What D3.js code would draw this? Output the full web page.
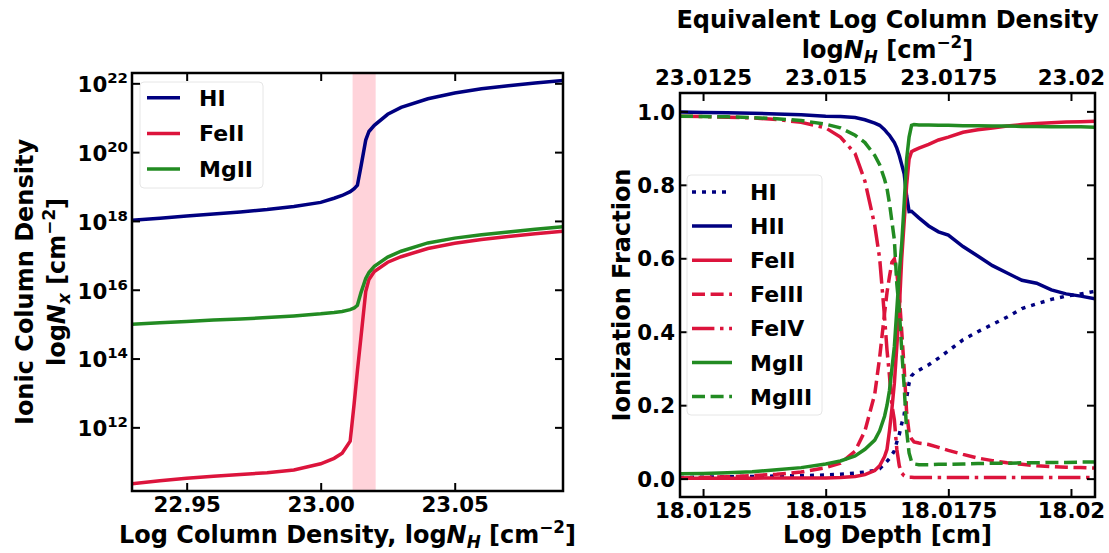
<!DOCTYPE html>
<html>
<head>
<meta charset="utf-8">
<script src="https://cdn.jsdelivr.net/npm/d3@7"></script>
<style>
body { margin: 0; background: #fff; }
svg text { font-family: "DejaVu Sans", sans-serif; font-weight: bold; fill: #000; }
</style>
</head>
<body>
<svg id="chart" width="1109" height="553"></svg>
<script>
// ---- left panel: ionic column density vs log N_H ----
var logNH = [22.9296, 22.94, 22.95, 22.96, 22.97, 22.98, 22.99, 23.00, 23.005, 23.008, 23.011, 23.0125, 23.0137,
    23.015, 23.0168, 23.018, 23.02, 23.025, 23.03, 23.04, 23.05, 23.06, 23.07, 23.08, 23.0904]
var logColHI = [18.02, 18.08, 18.14, 18.2, 18.26, 18.33, 18.42, 18.54, 18.66, 18.74, 18.85, 18.94, 19.04,
    19.57, 20.35, 20.6, 20.78, 21.1, 21.3, 21.55, 21.72, 21.84, 21.93, 22.01, 22.08]
var logColFeII = [10.36, 10.45, 10.52, 10.58, 10.63, 10.68, 10.76, 10.94, 11.1, 11.25, 11.6, 12.7, 13.65,
    14.6, 15.95, 16.3, 16.53, 16.8, 16.96, 17.2, 17.35, 17.46, 17.55, 17.63, 17.7]
var logColMgII = [15.0, 15.04, 15.08, 15.12, 15.15, 15.19, 15.24, 15.3, 15.34, 15.37, 15.42, 15.47, 15.55,
    15.91, 16.33, 16.5, 16.68, 16.95, 17.12, 17.36, 17.5, 17.6, 17.68, 17.76, 17.83]
var bandNH = [23.0119, 23.0205]
var leftXTicks = [22.95, 23.00, 23.05]
var leftYExps = [12, 14, 16, 18, 20, 22]
var leftNames = ["HI", "FeII", "MgII"]

// ---- right panel: ionization fraction vs log depth ----
var logDepth = [18.01203, 18.0125, 18.0130, 18.0135, 18.0140, 18.0145, 18.0150, 18.0153, 18.0156, 18.0158,
    18.0160, 18.0161, 18.0162, 18.01625, 18.0163, 18.01635, 18.0164, 18.01645, 18.0165, 18.01655,
    18.0166, 18.01665, 18.0167, 18.01675, 18.0168, 18.0169, 18.0171, 18.0173, 18.0175, 18.0178,
    18.0181, 18.0184, 18.0187, 18.0190, 18.0193, 18.0196, 18.0199, 18.0202, 18.02049]
var fracHI = [0.003, 0.004, 0.005, 0.006, 0.007, 0.008, 0.01, 0.012, 0.015, 0.018,
    0.022, 0.027, 0.04, 0.047, 0.055, 0.065, 0.075, 0.1, 0.12, 0.15,
    0.175, 0.22, 0.26, 0.28, 0.287, 0.295, 0.31, 0.328, 0.348, 0.378,
    0.40, 0.42, 0.44, 0.463, 0.476, 0.488, 0.497, 0.503, 0.51]
var fracHII = [0.998, 0.997, 0.996, 0.995, 0.993, 0.991, 0.987, 0.986, 0.983, 0.977,
    0.968, 0.962, 0.95, 0.942, 0.935, 0.925, 0.915, 0.9, 0.88, 0.855,
    0.83, 0.77, 0.727, 0.728, 0.722, 0.71, 0.688, 0.672, 0.663, 0.632,
    0.606, 0.58, 0.56, 0.54, 0.532, 0.514, 0.503, 0.497, 0.49]
var fracFeII = [0.001, 0.001, 0.001, 0.001, 0.002, 0.002, 0.002, 0.003, 0.006, 0.011,
    0.022, 0.035, 0.06, 0.08, 0.13, 0.19, 0.26, 0.36, 0.46, 0.6,
    0.7, 0.8, 0.87, 0.89, 0.894, 0.9, 0.91, 0.922, 0.93, 0.943,
    0.95, 0.955, 0.96, 0.964, 0.967, 0.969, 0.971, 0.972, 0.973]
var fracFeIII = [0.002, 0.003, 0.005, 0.008, 0.012, 0.018, 0.03, 0.042, 0.075, 0.13,
    0.23, 0.33, 0.45, 0.507, 0.55, 0.589, 0.598, 0.56, 0.5, 0.4,
    0.3, 0.18, 0.125, 0.108, 0.1, 0.097, 0.093, 0.085, 0.077, 0.066,
    0.056, 0.049, 0.043, 0.039, 0.035, 0.033, 0.031, 0.03, 0.029]
var fracFeIV = [0.987, 0.986, 0.984, 0.982, 0.978, 0.97, 0.955, 0.93, 0.885, 0.81,
    0.69, 0.6, 0.44, 0.35, 0.28, 0.2, 0.16, 0.08, 0.035, 0.015,
    0.008, 0.005, 0.004, 0.004, 0.003, 0.003, 0.003, 0.003, 0.003, 0.003,
    0.003, 0.003, 0.003, 0.003, 0.003, 0.003, 0.003, 0.003, 0.003]
var fracMgII = [0.013, 0.014, 0.016, 0.019, 0.024, 0.03, 0.04, 0.048, 0.062, 0.08,
    0.105, 0.13, 0.17, 0.2, 0.24, 0.3, 0.36, 0.46, 0.56, 0.64,
    0.75, 0.87, 0.93, 0.962, 0.964, 0.963, 0.963, 0.962, 0.962, 0.961,
    0.961, 0.96, 0.96, 0.959, 0.959, 0.958, 0.958, 0.958, 0.957]
var fracMgIII = [0.987, 0.986, 0.985, 0.983, 0.98, 0.975, 0.965, 0.955, 0.935, 0.915,
    0.88, 0.855, 0.815, 0.79, 0.75, 0.7, 0.65, 0.53, 0.46, 0.35,
    0.25, 0.13, 0.07, 0.046, 0.04, 0.038, 0.038, 0.039, 0.039, 0.04,
    0.041, 0.042, 0.042, 0.043, 0.043, 0.044, 0.044, 0.045, 0.045]
var rightNames = ["HI", "HII", "FeII", "FeIII", "FeIV", "MgII", "MgIII"]
var depthTicks = [18.0125, 18.015, 18.0175, 18.02]
var depthTickLabels = ["18.0125", "18.015", "18.0175", "18.02"]
var nhTickLabels = ["23.0125", "23.015", "23.0175", "23.02"]
var fracTicks = [0.0, 0.2, 0.4, 0.6, 0.8, 1.0]

var navy = "#000080", crimson = "#dc143c", green = "#228b22"
var lw = 3.5
var tickFont = "21.33px", labelFont = "24px", legendFont = "22px"

var svg = d3.select("#chart")

// text with sub/superscripts and italics
function richText(sel, parts, fs) {
    var cur = 0
    parts.forEach(function(p) {
        var t = p[0], k = p[1] || ""
        var off = 0, size = fs
        if (k.indexOf("sup") >= 0) { off = -0.42 * fs; size = 0.7 * fs }
        if (k.indexOf("sub") >= 0) { off = 0.22 * fs; size = 0.7 * fs }
        sel.append("tspan")
            .attr("dy", off - cur)
            .style("font-size", size + "px")
            .style("font-style", k.indexOf("i") === 0 ? "italic" : "normal")
            .text(t)
        cur = off
    })
}

function frame(g, x0, y0, x1, y1) {
    g.append("rect").attr("x", x0).attr("y", y0).attr("width", x1 - x0).attr("height", y1 - y0)
        .attr("fill", "none").attr("stroke", "#000").attr("stroke-width", 2.5)
}

function styleTicks(g) {
    g.select(".domain").remove()
    g.selectAll(".tick line").attr("stroke", "#000").attr("stroke-width", 2)
    g.selectAll(".tick text").style("font-size", tickFont).attr("fill", "#000")
}

// ================= LEFT PANEL =================
var L = { x0: 132, x1: 563, y0: 73, y1: 491 }
var xL = d3.scaleLinear().domain([22.9296, 23.0904]).range([L.x0, L.x1])
var yL = d3.scaleLog().domain([Math.pow(10, 10.15), Math.pow(10, 22.3)]).range([L.y1, L.y0])

var left = svg.append("g")
left.append("clipPath").attr("id", "clipL").append("rect")
    .attr("x", L.x0).attr("y", L.y0).attr("width", L.x1 - L.x0).attr("height", L.y1 - L.y0)

left.append("rect")
    .attr("x", xL(bandNH[0])).attr("y", L.y0)
    .attr("width", xL(bandNH[1]) - xL(bandNH[0])).attr("height", L.y1 - L.y0)
    .attr("fill", "pink").attr("opacity", 0.7)

var lineL = function(vals) {
    return d3.line().x(function(d, i) { return xL(logNH[i]) }).y(function(d) { return yL(Math.pow(10, d)) })(vals)
}
var leftSeries = [[logColHI, navy], [logColFeII, crimson], [logColMgII, green]]
leftSeries.forEach(function(s) {
    left.append("path").attr("d", lineL(s[0])).attr("clip-path", "url(#clipL)")
        .attr("fill", "none").attr("stroke", s[1]).attr("stroke-width", lw)
})

left.append("g").attr("transform", "translate(0," + L.y1 + ")")
    .call(d3.axisBottom(xL).tickValues(leftXTicks).tickSize(-8).tickSizeOuter(0).tickFormat(d3.format(".2f")))
    .call(styleTicks)
    .call(function(g) { g.selectAll(".tick text").attr("y", 21).attr("dy", null) })
left.append("g").attr("transform", "translate(0," + L.y0 + ")")
    .call(d3.axisTop(xL).tickValues(leftXTicks).tickSize(-8).tickSizeOuter(0).tickFormat(""))
    .call(styleTicks)
var yAxL = left.append("g").attr("transform", "translate(" + L.x0 + ",0)")
    .call(d3.axisLeft(yL).tickValues(leftYExps.map(function(e) { return Math.pow(10, e) })).tickSize(-8).tickSizeOuter(0).tickFormat(""))
    .call(styleTicks)
yAxL.selectAll(".tick").each(function(d) {
    var t = d3.select(this).append("text").attr("x", -4).attr("y", 8.3).attr("text-anchor", "end")
    richText(t, [["10"], [String(Math.round(Math.log10(d))), "sup"]], 21.33)
})
left.append("g").attr("transform", "translate(" + L.x1 + ",0)")
    .call(d3.axisRight(yL).tickValues(leftYExps.map(function(e) { return Math.pow(10, e) })).tickSize(-8).tickSizeOuter(0).tickFormat(""))
    .call(styleTicks)

frame(left, L.x0, L.y0, L.x1, L.y1)

// axis titles
var lx = left.append("text").attr("x", (L.x0 + L.x1) / 2).attr("y", 543).attr("text-anchor", "middle").style("font-size", labelFont)
richText(lx, [["Log Column Density, log"], ["N", "i"], ["H", "isub"], [" [cm"], ["\u22122", "sup"], ["]"]], 24)
left.append("text").attr("transform", "translate(33," + (L.y0 + L.y1) / 2 + ") rotate(-90)")
    .attr("text-anchor", "middle").style("font-size", labelFont).text("Ionic Column Density")
var ly2 = left.append("text").attr("transform", "translate(65," + (L.y0 + L.y1) / 2 + ") rotate(-90)")
    .attr("text-anchor", "middle").style("font-size", labelFont)
richText(ly2, [["log"], ["N", "i"], ["x", "isub"], [" [cm"], ["\u22122", "sup"], ["]"]], 24)

// legend
var legL = left.append("g")
legL.append("rect").attr("x", 140).attr("y", 82).attr("width", 123).attr("height", 106).attr("rx", 4)
    .attr("fill", "#fff").attr("fill-opacity", 0.8).attr("stroke", "#e6e6e6").attr("stroke-width", 1)
leftNames.forEach(function(n, i) {
    var yy = 97.7 + i * 35.7
    legL.append("line").attr("x1", 147).attr("x2", 180).attr("y1", yy).attr("y2", yy)
        .attr("stroke", leftSeries[i][1]).attr("stroke-width", lw)
    legL.append("text").attr("x", 199).attr("y", yy + 8).style("font-size", legendFont).text(n)
})

// ================= RIGHT PANEL =================
var R = { x0: 680, x1: 1095, y0: 93, y1: 497 }
var xR = d3.scaleLinear().domain([18.01203, 18.02049]).range([R.x0, R.x1])
var xTop = d3.scaleLinear().domain([23.01203, 23.02049]).range([R.x0, R.x1])
var yR = d3.scaleLinear().domain([-0.05, 1.05]).range([R.y1, R.y0])

var right = svg.append("g")
right.append("clipPath").attr("id", "clipR").append("rect")
    .attr("x", R.x0).attr("y", R.y0).attr("width", R.x1 - R.x0).attr("height", R.y1 - R.y0)

var lineR = d3.line().x(function(d, i) { return xR(logDepth[i]) }).y(function(d) { return yR(d) })
var rightSeries = [
    [fracHI, navy, "4,6"],
    [fracHII, navy, null],
    [fracFeII, crimson, null],
    [fracFeIII, crimson, "13,5.6"],
    [fracFeIV, crimson, "22.4,5.6,3.5,5.6"],
    [fracMgII, green, null],
    [fracMgIII, green, "13,5.6"]
]
rightSeries.forEach(function(s) {
    right.append("path").attr("d", lineR(s[0])).attr("clip-path", "url(#clipR)")
        .attr("fill", "none").attr("stroke", s[1]).attr("stroke-width", lw)
        .attr("stroke-dasharray", s[2])
})

right.append("g").attr("transform", "translate(0," + R.y1 + ")")
    .call(d3.axisBottom(xR).tickValues(depthTicks).tickSize(-8).tickSizeOuter(0)
        .tickFormat(function(d, i) { return depthTickLabels[i] }))
    .call(styleTicks)
    .call(function(g) { g.selectAll(".tick text").attr("y", 21).attr("dy", null) })
right.append("g").attr("transform", "translate(0," + R.y0 + ")")
    .call(d3.axisTop(xTop).tickValues(depthTicks.map(function(d) { return d + 5 })).tickSize(-8).tickSizeOuter(0)
        .tickFormat(function(d, i) { return nhTickLabels[i] }))
    .call(styleTicks)
    .call(function(g) { g.selectAll(".tick text").attr("y", -8).attr("dy", null) })
right.append("g").attr("transform", "translate(" + R.x0 + ",0)")
    .call(d3.axisLeft(yR).tickValues(fracTicks).tickSize(-8).tickSizeOuter(0).tickFormat(d3.format(".1f")))
    .call(styleTicks)
    .call(function(g) { g.selectAll(".tick text").attr("x", -5).attr("dy", null).attr("y", 7.7) })
right.append("g").attr("transform", "translate(" + R.x1 + ",0)")
    .call(d3.axisRight(yR).tickValues(fracTicks).tickSize(-8).tickSizeOuter(0).tickFormat(""))
    .call(styleTicks)

frame(right, R.x0, R.y0, R.x1, R.y1)

right.append("text").attr("x", (R.x0 + R.x1) / 2).attr("y", 543).attr("text-anchor", "middle")
    .style("font-size", labelFont).text("Log Depth [cm]")
right.append("text").attr("transform", "translate(630," + (R.y0 + R.y1) / 2 + ") rotate(-90)")
    .attr("text-anchor", "middle").style("font-size", labelFont).text("Ionization Fraction")
right.append("text").attr("x", (R.x0 + R.x1) / 2).attr("y", 28).attr("text-anchor", "middle")
    .style("font-size", labelFont).text("Equivalent Log Column Density")
var t2 = right.append("text").attr("x", (R.x0 + R.x1) / 2).attr("y", 58).attr("text-anchor", "middle")
    .style("font-size", labelFont)
richText(t2, [["log"], ["N", "i"], ["H", "isub"], [" [cm"], ["\u22122", "sup"], ["]"]], 24)

// legend
var legR = right.append("g")
legR.append("rect").attr("x", 687).attr("y", 175).attr("width", 135).attr("height", 240).attr("rx", 4)
    .attr("fill", "#fff").attr("fill-opacity", 0.8).attr("stroke", "#e6e6e6").attr("stroke-width", 1)
rightNames.forEach(function(n, i) {
    var yy = 192 + i * 34.1
    legR.append("line").attr("x1", 692).attr("x2", 732).attr("y1", yy).attr("y2", yy)
        .attr("stroke", rightSeries[i][1]).attr("stroke-width", lw)
        .attr("stroke-dasharray", rightSeries[i][2])
    legR.append("text").attr("x", 750).attr("y", yy + 8).style("font-size", legendFont).text(n)
})
</script>
</body>
</html>
